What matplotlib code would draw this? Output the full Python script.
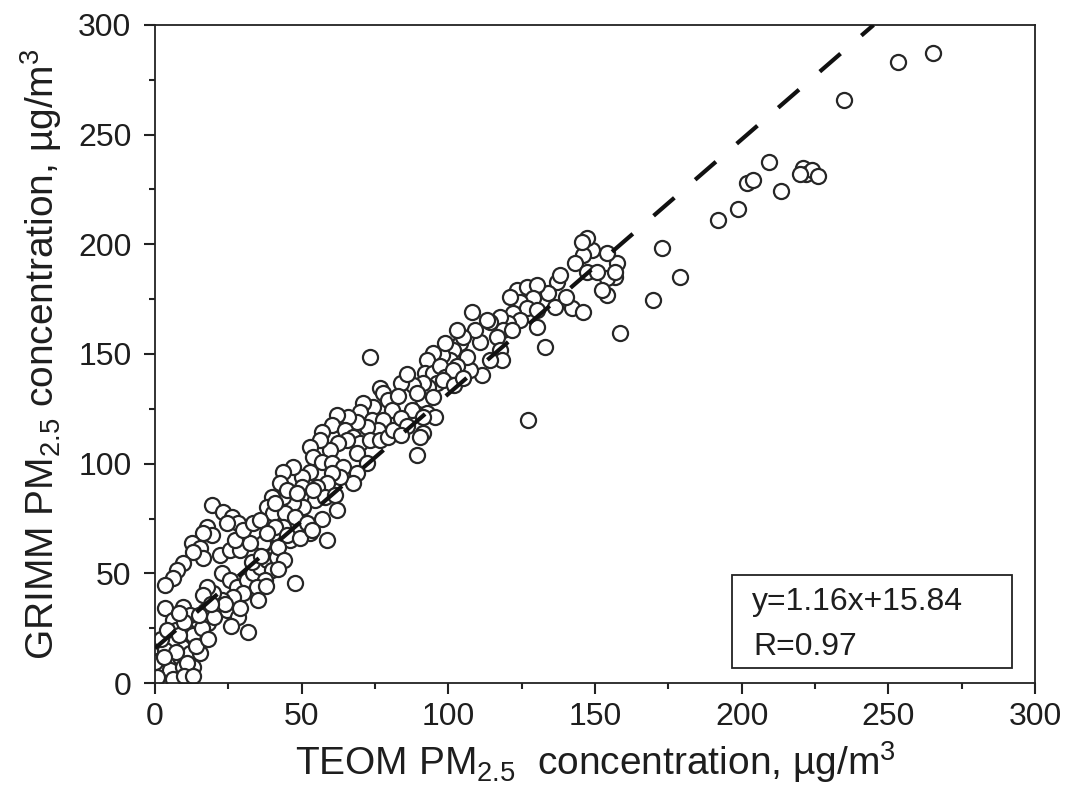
import numpy as np
import matplotlib.pyplot as plt
from matplotlib.patches import Rectangle
from matplotlib.ticker import MultipleLocator

# TEOM (x) vs GRIMM (y) PM2.5, ug/m3
teom = [
    # high end
    265.3, 253.2, 235.0, 209.4, 221.0, 222.0, 224.0, 226.0, 220.0, 201.7, 203.8, 213.4,
    198.9, 192.1, 173.0, 179.0, 169.7, 158.5, 157.4, 156.8, 154.0, 154.0,
    148.9, 146.0, 154.0, 143.2, 147.2, 150.6, 156.8, 152.3, 147.2, 145.5,
    # 90 - 145
    136.9, 134.1, 142.0, 146.0, 136.4, 130.1, 132.9, 127.3,
    123.3, 126.7, 130.1, 129.0, 124.4, 121.0, 126.7, 130.1, 122.2, 124.4, 120.5, 117.6,
    118.8, 114.2, 121.6, 116.5, 110.8, 109.1, 108.0, 113.1, 117.6, 118.2, 114.2, 111.4,
    107.4, 106.3, 104.0, 105.1, 101.7, 100.6, 102.9, 97.8, 94.9, 92.6, 92.0, 94.9,
    96.0, 93.2, 91.5, 94.9, 92.6, 95.5, 91.5, 97.2, 98.9,
    101.7, 98.3, 91.5, 88.1, 89.2, 87.5, 91.5, 90.4, 89.2, 102.0, 105.0, 140.0, 138.0,
    103.0, 99.0,
    # 36 - 90
    73.3, 76.7, 77.8, 79.5, 80.7, 74.4, 71.0, 69.9, 73.9, 77.8, 76.1, 72.2,
    68.8, 65.9, 61.9, 60.2, 64.8, 67.6, 69.9, 73.3, 76.7, 79.5, 81.2, 65.4,
    62.5, 59.7, 56.8, 56.3, 52.8, 54.0, 56.8, 60.2, 64.2, 68.8, 72.2, 68.8,
    67.6, 63.1, 60.2, 58.5, 55.1, 52.8, 50.0, 47.2, 43.7, 42.6, 46.6, 50.0,
    51.7, 54.6, 58.0, 61.4, 50.6, 47.2, 43.7, 39.8, 38.1, 40.3, 44.3, 47.7,
    43.7, 40.3, 49.4, 52.8, 58.5, 36.9, 40.9, 46.0,
    84.0, 86.0, 83.0, 84.0, 86.0, 84.0, 57.0, 62.0,
    # 0 - 58
    19.3, 23.3, 26.1, 28.4, 24.4, 17.6, 19.3, 16.5, 12.5, 15.3, 16.5, 13.1,
    9.6, 7.4, 6.2, 3.4, 22.2, 25.6, 29.0, 32.4, 27.3, 30.1, 33.5, 35.8,
    40.9, 44.9, 48.3, 54.0, 51.7, 40.9, 38.1, 44.9, 49.4, 53.4,
    22.7, 25.6, 27.9, 31.3, 33.5, 35.8, 38.1, 39.8, 41.5, 37.5, 34.7, 30.1,
    26.7, 22.7, 19.9, 17.6, 16.5, 20.5, 24.4, 28.4, 31.8, 47.7,
    3.4, 6.2, 9.6, 10.8, 14.2, 18.2, 15.3, 12.5, 9.1, 5.7, 3.4, 1.7,
    5.1, 8.5, 11.9, 15.3, 1.7, 5.1, 9.6, 13.1, 0.6, 0.0,
    12.0, 17.0, 7.0, 13.0, 20.0, 24.0,
    2.0, 4.0, 8.0, 10.0, 7.0, 11.0, 14.0, 16.0, 18.0, 3.0, 6.0, 10.0,
    13.0, 8.0, 15.0, 19.0, 33.0, 36.0, 42.0, 44.0, 38.0, 35.0, 42.0,
    26.0, 29.0,
]
grimm = [
    287.1, 283.0, 265.8, 237.7, 235.0, 232.0, 234.0, 231.0, 232.0, 228.1, 229.4, 224.5,
    216.0, 211.1, 198.2, 185.3, 174.6, 159.4, 191.4, 185.3, 184.5, 176.9,
    197.4, 195.2, 195.9, 191.4, 187.6, 187.6, 187.6, 179.2, 202.8, 201.0,
    183.0, 177.7, 170.9, 169.3, 171.6, 162.5, 153.4, 119.9,
    179.2, 180.7, 181.5, 175.4, 173.9, 176.2, 170.9, 170.1, 168.6, 165.5, 164.0, 167.0,
    161.0, 164.7, 161.0, 157.9, 155.6, 161.0, 169.3, 165.5, 151.8, 147.3, 147.3, 140.4,
    142.7, 148.8, 154.9, 157.9, 151.8, 147.3, 144.3, 149.6, 150.3, 147.3, 141.2, 141.2,
    136.7, 135.1, 129.1, 130.6, 123.0, 121.4, 113.8, 144.3, 139.7,
    142.7, 138.2, 136.7, 135.9, 132.1, 124.5, 121.4, 112.3, 104.0, 136.0, 139.0, 176.0, 186.0,
    161.0, 155.0,
    148.8, 134.4, 132.1, 129.1, 124.5, 126.0, 127.5, 123.7, 119.9, 119.9, 115.4, 116.9,
    119.1, 121.4, 122.2, 117.6, 115.4, 112.3, 109.3, 110.8, 110.8, 112.3, 115.4, 110.8,
    109.3, 106.2, 114.6, 110.8, 107.8, 103.2, 100.9, 100.2, 98.6, 104.7, 100.2, 95.6,
    91.1, 94.1, 95.6, 91.1, 89.5, 96.4, 94.1, 98.6, 96.4, 91.1, 86.5, 89.5,
    84.9, 83.4, 84.9, 85.7, 80.4, 81.9, 84.9, 84.9, 80.4, 77.4, 77.4, 75.8,
    71.3, 68.2, 69.8, 68.2, 65.2, 63.7, 59.1, 65.2,
    137.0, 141.0, 131.0, 121.0, 117.0, 113.0, 75.0, 79.0,
    81.2, 78.1, 75.8, 72.8, 72.8, 71.3, 67.5, 68.3, 63.7, 61.4, 56.9, 59.9,
    54.6, 51.5, 47.7, 44.7, 58.4, 60.6, 60.6, 63.7, 65.2, 69.8, 72.8, 74.3,
    81.9, 88.0, 86.5, 88.0, 72.8, 71.3, 68.2, 67.5, 65.9, 69.8,
    50.0, 47.0, 43.9, 47.0, 50.0, 53.0, 56.1, 51.5, 57.6, 47.0, 43.9, 40.9,
    39.4, 37.8, 40.9, 43.9, 40.1, 34.8, 33.3, 30.2, 23.4, 45.5,
    34.1, 28.7, 34.8, 24.2, 28.7, 27.2, 21.1, 18.1, 16.6, 19.6, 15.0, 10.5,
    10.5, 12.0, 13.5, 13.5, 5.9, 5.9, 7.4, 7.4, 2.9, 9.7,
    31.0, 33.0, 24.0, 22.0, 30.0, 36.0,
    20.0, 24.0, 22.0, 28.0, 14.0, 9.0, 17.0, 25.0, 20.0, 12.0, 2.0, 3.0,
    3.0, 32.0, 31.0, 36.0, 55.0, 58.0, 62.0, 56.0, 44.0, 38.0, 52.0,
    26.0, 34.0,
]

slope = 1.16
intercept = 15.84
fit_text = ['y=1.16x+15.84', 'R=0.97']

plt.rcParams['font.family'] = ['Liberation Sans', 'DejaVu Sans']
plt.rcParams['mathtext.fontset'] = 'custom'
plt.rcParams['mathtext.rm'] = 'Liberation Sans'
plt.rcParams['mathtext.it'] = 'Liberation Sans:italic'
plt.rcParams['mathtext.bf'] = 'Liberation Sans:bold'

txt = '#1e1e1e'

fig = plt.figure(figsize=(10.67, 7.93), dpi=100)
ax = fig.add_axes([0.1453, 0.1387, 0.8247, 0.8298])

ax.scatter(teom, grimm, s=118, facecolors='white', edgecolors='#262626',
           linewidths=1.6, zorder=2)

# regression line, cut where it leaves the top of the plot
xfit = np.array([0, (300 - intercept) / slope])
ax.plot(xfit, slope * xfit + intercept, color='#111111', lw=3.0,
        dashes=(6.6, 6.6), zorder=3)

ax.set_xlim(0, 300)
ax.set_ylim(0, 300)
ax.xaxis.set_major_locator(MultipleLocator(50))
ax.xaxis.set_minor_locator(MultipleLocator(25))
ax.yaxis.set_major_locator(MultipleLocator(50))
ax.yaxis.set_minor_locator(MultipleLocator(25))
ax.tick_params(which='major', direction='out', length=8, width=1.5,
               labelsize=23, labelcolor=txt, color='#222222')
ax.tick_params(which='minor', direction='out', length=4, width=1.5, color='#222222')
ax.tick_params(axis='x', which='major', pad=6)
ax.tick_params(axis='y', which='major', pad=9)
for s in ax.spines.values():
    s.set_linewidth(1.3)
    s.set_color('#222222')

ax.set_xlabel('TEOM PM$_{2.5}$  concentration, µg/m$^{3}$', fontsize=28,
              color=txt, labelpad=5)
ax.set_ylabel('GRIMM PM$_{2.5}$ concentration, µg/m$^{3}$', fontsize=28,
              color=txt, labelpad=10)

# equation box
ax.add_patch(Rectangle((0.6557, 0.0228), 0.3182, 0.1413, transform=ax.transAxes,
                       fill=False, edgecolor='#222222', lw=1.3, zorder=4))
ax.text(0.678, 0.111, fit_text[0], transform=ax.transAxes, fontsize=23,
        color=txt, va='baseline', ha='left', zorder=5)
ax.text(0.680, 0.0426, fit_text[1], transform=ax.transAxes, fontsize=23,
        color=txt, va='baseline', ha='left', zorder=5)

fig.savefig('out.png', dpi=100)
